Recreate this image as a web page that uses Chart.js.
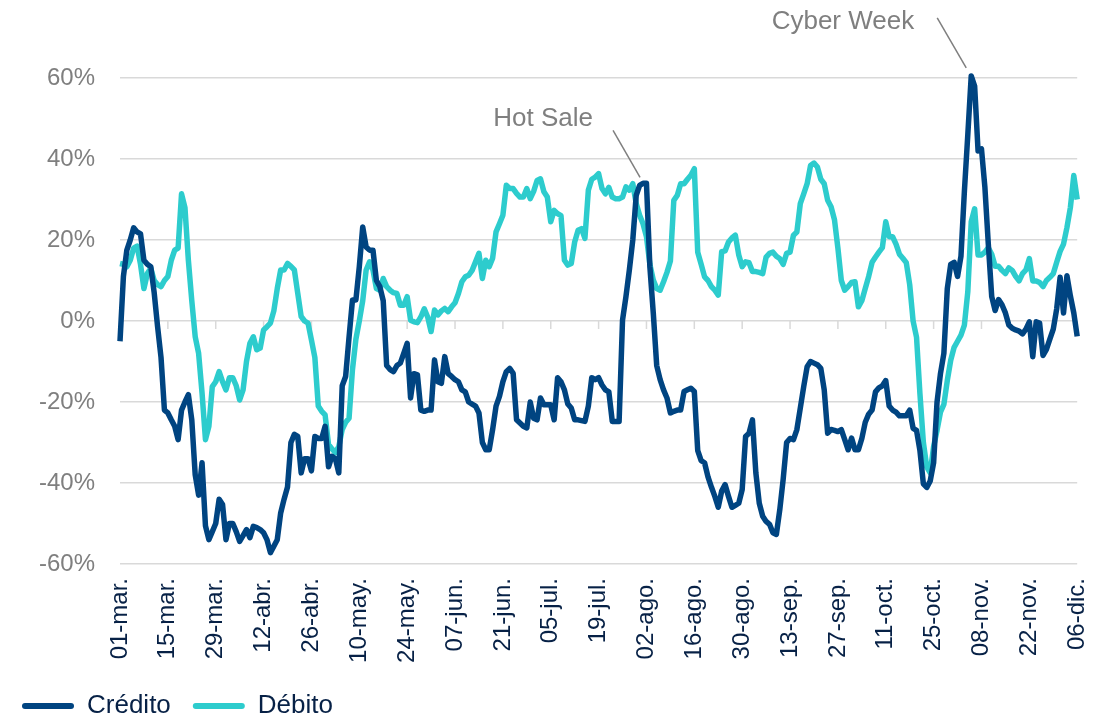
<!DOCTYPE html>
<html lang="es">
<head>
<meta charset="utf-8">
<title>Crédito y Débito</title>
<script src="https://cdn.jsdelivr.net/npm/chart.js@4.4.1/dist/chart.umd.min.js"></script>
<style>
  html, body { margin: 0; padding: 0; background: #fff; }
  #wrap { width: 1112px; height: 721px; position: relative; }
</style>
</head>
<body>
<div id="wrap"><canvas id="chart"></canvas></div>
<script>
// Variación diaria (%) de compras con tarjeta, 01-mar a 06-dic
const monthNames = ['ene', 'feb', 'mar', 'abr', 'may', 'jun', 'jul', 'ago', 'sep', 'oct', 'nov', 'dic'];
const dayCount = 281;

const tickLabels = ['01-mar.', '15-mar.', '29-mar.', '12-abr.', '26-abr.', '10-may.', '24-may.',
  '07-jun.', '21-jun.', '05-jul.', '19-jul.', '02-ago.', '16-ago.', '30-ago.', '13-sep.',
  '27-sep.', '11-oct.', '25-oct.', '08-nov.', '22-nov.', '06-dic.'];

const yTicks = [-60, -40, -20, 0, 20, 40, 60];

const credito = [
  -5, 11, 17.5, 20, 23, 22, 21.5, 15, 14, 13.4,
  7, -1.4, -9, -22, -22.7, -24.4, -26, -29.3, -22, -20,
  -18.2, -24.4, -38, -43, -35, -50.6, -54, -52, -50, -44,
  -45.3, -54, -50, -50, -52, -54.4, -53, -51.5, -53.5, -50.7,
  -51, -51.5, -52.3, -54, -57.2, -55.6, -54, -47.4, -44, -41,
  -30, -28, -28.5, -37.5, -34, -34, -37, -28.5, -29, -29,
  -26, -36, -33.4, -34, -37.5, -16, -13.7, -4, 5.2, 5.2,
  13.4, 23.2, 18.3, 17.5, 17.5, 10, 8.5, 5, -11, -12,
  -12.5, -11, -10.4, -8, -5.5, -19, -13, -13.3, -22, -22.3,
  -22, -22, -9.6, -15, -15.4, -8.8, -13, -13.7, -14.5, -15,
  -17, -17.5, -20, -20.5, -21, -22.7, -30, -31.8, -31.8, -26.8,
  -21, -18.6, -15, -12.5, -11.7, -12.9, -24.4, -25.2, -26, -26.4,
  -20, -24, -24.4, -19, -20.7, -20.7, -20.7, -24.4, -14, -15,
  -17, -20.5, -21.5, -24.4, -24.4, -24.6, -24.8, -21, -14, -14.5,
  -14, -15.8, -17, -17.5, -24.8, -24.8, -24.8, 0.2, 6, 12.6,
  20, 31, 33.5, 34, 34, 13.4, 1.9, -11, -14.5, -17,
  -19, -22.7, -22.3, -22, -22, -17.4, -17, -16.6, -17.4, -32,
  -34.5, -35, -38.5, -41, -43.3, -46, -42, -40.4, -43.3, -46,
  -45.5, -45, -41.6, -28.5, -27.7, -24.4, -37.5, -45, -48.2, -49.5,
  -50.2, -52.3, -52.7, -46.6, -39, -30, -29, -29.3, -26.8, -21.5,
  -16.2, -11.3, -10, -10.4, -10.8, -11.7, -17, -27.7, -26.8, -27,
  -27.3, -26.8, -29.3, -31.8, -28.9, -31.8, -31.8, -29, -25, -23,
  -22, -17.5, -16.5, -16, -14.7, -21, -22, -22.5, -23.4, -23.4,
  -23.4, -22, -26.5, -27, -32, -40.2, -41.1, -39.5, -35, -20,
  -13, -8, 8, 14, 14.5, 11, 16, 32, 46, 60.5,
  58, 42, 42.5, 33, 19, 6, 2.6, 5.3, 4, 2,
  -1, -1.8, -2.2, -2.5, -3.2, -2, -0.2, -8.8, -0.2, -0.5,
  -8.5, -7, -4.5, -2, 3, 10.8, 2, 11.2, 6.2, 2,
  -3.8
];

const debito = [
  14.2, 14, 13.4, 15, 18, 18.5, 14, 8, 11.7, 13,
  10, 9, 8.5, 10, 11, 15, 17.5, 18, 31.4, 28,
  15, 5, -3.9, -8, -17.8, -29.3, -26, -16.2, -15, -12.5,
  -15, -17, -14, -14, -16, -19.5, -17, -10, -5.5, -3.9,
  -7.1, -6.7, -2.2, -1.4, -0.5, 2.5, 8, 12.6, 12.6, 14.2,
  13.5, 12.6, 6.8, 1.1, 0, -0.5, -4.7, -9, -21, -22.3,
  -23.2, -30.5, -31.6, -32.5, -31, -26.8, -25, -24, -12, -4.5,
  0, 5, 12.6, 14.6, 12.6, 8, 7.6, 10.5, 8.5, 7.6,
  7, 6.8, 3.9, 3.9, 6, 0.2, -0.2, -0.4, 1, 3,
  1, -2.6, 2.7, 1.5, 2.5, 3.1, 2.3, 3.5, 4.5, 6.8,
  9.7, 10.9, 11.3, 12.5, 14.6, 16.7, 10.5, 15, 13.4, 15.5,
  22, 24, 26.1, 33.5, 32.7, 32.7, 31.5, 30.6, 30.6, 32.7,
  30.2, 32, 34.7, 35.1, 31.9, 30.6, 24.5, 27.3, 26.5, 26,
  15, 13.8, 14.2, 19.5, 22.4, 22.8, 20.4, 32.3, 35, 35.5,
  36.4, 32.7, 31.4, 33, 30.6, 30.2, 30.2, 30.6, 33.1, 32.3,
  33.9, 29, 26.1, 24, 20.8, 14, 10.1, 8, 7.6, 9.7,
  12, 14.8, 29.8, 31, 33.9, 33.9, 35, 36, 37.6, 17,
  14, 10.9, 10, 8.5, 7.6, 6.4, 17.1, 17.3, 19.5, 20.5,
  21.2, 16.3, 13.4, 14.6, 14.4, 12.2, 12.2, 12, 11.7, 15.8,
  16.7, 17, 16, 15.4, 14, 16.7, 17, 21.2, 22, 29,
  31.4, 33.9, 38.4, 39, 38, 35, 33.9, 29.8, 28.2, 25,
  18, 10, 7.6, 8.5, 9.5, 9.7, 3.5, 5, 8, 11,
  14.5, 15.8, 17, 18.1, 24.5, 20.8, 20.8, 19, 16.5, 15.5,
  14.4, 9, 0, -4, -18, -30, -36.1, -37.5, -31, -27,
  -22.5, -20.6, -14.7, -9.7, -6.5, -5, -3.5, -1, 7.2, 24.5,
  27.7, 16.3, 16.3, 17, 18.1, 16.5, 13.5, 13.5, 12.5, 11.7,
  13.1, 12.5, 11, 9.9, 11.7, 12.6, 15.4, 9.9, 9.9, 9.5,
  8.5, 10, 10.8, 11.7, 14.5, 17.2, 19, 23.1, 28, 35.9,
  30
];

// daily category labels like "01-mar."
const days = [];
for (let i = 0; i < dayCount; i++) {
  const d = new Date(2020, 2, 1 + i);
  days.push(String(d.getDate()).padStart(2, '0') + '-' + monthNames[d.getMonth()] + '.');
}

const fontFamily = "'Liberation Sans', Arial, sans-serif";
const navy = '#004481';
const aqua = '#2dcccd';
const gridColor = '#d9d9d9';

// callouts for Hot Sale / Cyber Week, anchored on the Crédito series
const callouts = [
  { text: 'Hot Sale', index: 153, lineFrom: [-30, -53], lineTo: [-3, -6], textAt: [-50, -64] },
  { text: 'Cyber Week', index: 249, lineFrom: [-34, -58], lineTo: [-5, -8], textAt: [-57, -54] }
];

const extrasPlugin = {
  id: 'extras',
  beforeDatasetsDraw(chart) {
    const { ctx, scales: { x, y } } = chart;
    const y0 = y.getPixelForValue(0);
    ctx.save();
    ctx.strokeStyle = gridColor;
    ctx.lineWidth = 1.5;
    days.forEach((lab, i) => {
      if (!tickLabels.includes(lab)) return;
      const px = x.getPixelForValue(i);
      ctx.beginPath();
      ctx.moveTo(px, y0);
      ctx.lineTo(px, y0 + 8);
      ctx.stroke();
    });
    ctx.restore();
  },
  afterDraw(chart) {
    const { ctx, scales: { x, y } } = chart;
    ctx.save();
    callouts.forEach(c => {
      const px = x.getPixelForValue(c.index);
      const py = y.getPixelForValue(credito[c.index]);
      ctx.strokeStyle = '#7f7f7f';
      ctx.lineWidth = 1.5;
      ctx.beginPath();
      ctx.moveTo(px + c.lineFrom[0], py + c.lineFrom[1]);
      ctx.lineTo(px + c.lineTo[0], py + c.lineTo[1]);
      ctx.stroke();
      ctx.fillStyle = '#7f7f7f';
      ctx.font = '26px ' + fontFamily;
      ctx.textAlign = 'right';
      ctx.textBaseline = 'middle';
      ctx.fillText(c.text, px + c.textAt[0], py + c.textAt[1]);
    });
    ctx.restore();
  }
};

new Chart(document.getElementById('chart'), {
  type: 'line',
  data: {
    labels: days,
    datasets: [
      {
        label: 'Crédito',
        data: credito,
        borderColor: navy,
        backgroundColor: navy,
        borderWidth: 5.5,
        pointRadius: 0,
        tension: 0,
        borderJoinStyle: 'round',
        clip: 10
      },
      {
        label: 'Débito',
        data: debito,
        borderColor: aqua,
        backgroundColor: aqua,
        borderWidth: 5.5,
        pointRadius: 0,
        tension: 0,
        borderJoinStyle: 'round',
        clip: 10
      }
    ]
  },
  options: {
    responsive: true,
    maintainAspectRatio: false,
    animation: false,
    layout: {
      padding: { top: 78, right: 29, bottom: -8, left: 0 }
    },
    plugins: {
      tooltip: { enabled: false },
      legend: {
        position: 'bottom',
        align: 'start',
        labels: {
          boxWidth: 52,
          boxHeight: 6,
          useBorderRadius: true,
          borderRadius: 3,
          padding: 22,
          color: '#072146',
          font: { family: fontFamily, size: 26 },
          generateLabels(chart) {
            const items = Chart.defaults.plugins.legend.labels.generateLabels(chart);
            items.forEach(it => { it.lineWidth = 0; it.fillStyle = it.strokeStyle; });
            return items;
          }
        }
      }
    },
    scales: {
      x: {
        grid: { display: false },
        border: { display: false },
        afterFit(scale) { scale.height = 107; },
        ticks: {
          autoSkip: false,
          minRotation: 90,
          maxRotation: 90,
          padding: 6,
          color: '#072146',
          font: { family: fontFamily, size: 24 },
          callback(val) {
            const lab = this.getLabelForValue(val);
            return tickLabels.includes(lab) ? lab : null;
          }
        }
      },
      y: {
        min: -60,
        max: 60,
        afterFit(scale) { scale.width = 120; },
        afterBuildTicks(scale) { scale.ticks = yTicks.map(v => ({ value: v })); },
        grid: { color: gridColor, lineWidth: 1.5, drawTicks: false },
        border: { display: false },
        ticks: {
          padding: 25,
          color: '#7f7f7f',
          font: { family: fontFamily, size: 24 },
          callback: v => v + '%'
        }
      }
    }
  },
  plugins: [extrasPlugin]
});
</script>
</body>
</html>
